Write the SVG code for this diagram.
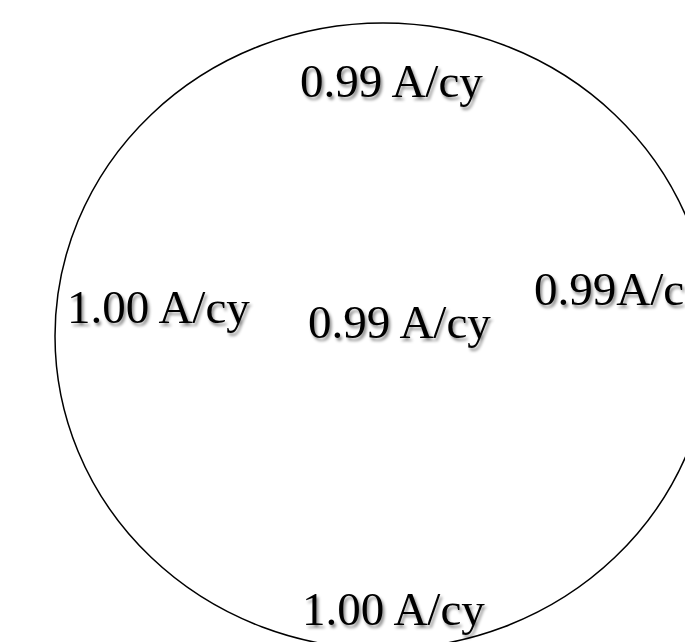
<svg xmlns="http://www.w3.org/2000/svg" width="685" height="642" viewBox="0 0 685 642">
  <defs>
    <filter id="shadow" x="-10%" y="-30%" width="130%" height="170%">
      <feDropShadow dx="2" dy="3" stdDeviation="1.6" flood-color="#000" flood-opacity="0.45"/>
    </filter>
    <style>
      .lbl { font-family: "Liberation Serif", "Times New Roman", serif; font-size: 47px; fill: #000; filter: url(#shadow); }
      .ring { fill: none; stroke: #000; stroke-width: 1.5; }
    </style>
  </defs>
  <rect width="685" height="642" fill="#fff"/>
  <g id="circle">
    <ellipse class="ring" cx="383" cy="336" rx="328" ry="313"/>
  </g>
  <g id="label-top"><text class="lbl" x="300" y="97">0.99 A/cy</text></g>
  <g id="label-left"><text class="lbl" x="67" y="323">1.00 A/cy</text></g>
  <g id="label-center"><text class="lbl" x="308" y="338">0.99 A/cy</text></g>
  <g id="label-right"><text class="lbl" x="534" y="305">0.99A/c</text></g>
  <g id="label-bottom"><text class="lbl" x="302" y="625">1.00 A/cy</text></g>
</svg>
